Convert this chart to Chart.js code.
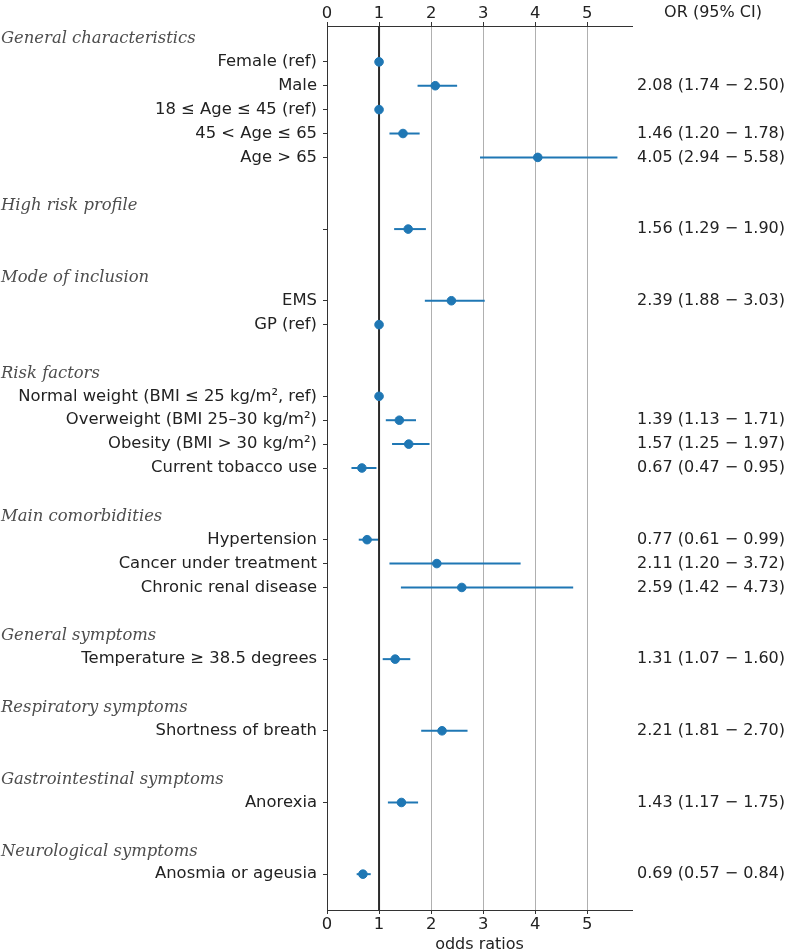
<!DOCTYPE html>
<html>
<head>
<meta charset="utf-8">
<script src="https://cdn.jsdelivr.net/npm/chart.js@4"></script>
<style>
  body { margin: 0; background: #fff; }
  #wrap { width: 787px; height: 951px; }
</style>
</head>
<body>
<div id="wrap"><canvas id="forest"></canvas></div>
<script>
// group headings and the row they sit on
const groups = ['General characteristics', 'High risk profile', 'Mode of inclusion', 'Risk factors',
  'Main comorbidities', 'General symptoms', 'Respiratory symptoms', 'Gastrointestinal symptoms',
  'Neurological symptoms'];
const groupRows = [0, 7, 10, 14, 20, 25, 28, 31, 34];

// variables
const labels = ['Female (ref)', 'Male', '18 ≤ Age ≤ 45 (ref)', '45 < Age ≤ 65', 'Age > 65', '',
  'EMS', 'GP (ref)', 'Normal weight (BMI ≤ 25 kg/m², ref)', 'Overweight (BMI 25–30 kg/m²)',
  'Obesity (BMI > 30 kg/m²)', 'Current tobacco use', 'Hypertension', 'Cancer under treatment',
  'Chronic renal disease', 'Temperature ≥ 38.5 degrees', 'Shortness of breath', 'Anorexia',
  'Anosmia or ageusia'];
const labelRows = [1, 2, 3, 4, 5, 8, 11, 12, 15, 16, 17, 18, 21, 22, 23, 26, 29, 32, 35];

const oddsRatios = [1, 2.08, 1, 1.46, 4.05, 1.56, 2.39, 1, 1, 1.39, 1.57, 0.67, 0.77, 2.11, 2.59, 1.31, 2.21, 1.43, 0.69];
const ciLow  = [null, 1.74, null, 1.20, 2.94, 1.29, 1.88, null, null, 1.13, 1.25, 0.47, 0.61, 1.20, 1.42, 1.07, 1.81, 1.17, 0.57];
const ciHigh = [null, 2.50, null, 1.78, 5.58, 1.90, 3.03, null, null, 1.71, 1.97, 0.95, 0.99, 3.72, 4.73, 1.60, 2.70, 1.75, 0.84];

const xTicks = [0, 1, 2, 3, 4, 5];
const xMax = 5.86;
const refValue = 1;
const nRows = 37;

const orText = oddsRatios.map((v, i) => ciLow[i] == null ? '' :
  v.toFixed(2) + ' (' + ciLow[i].toFixed(2) + ' − ' + ciHigh[i].toFixed(2) + ')');

const blue = '#1f77b4';
const ink = '#222';
const sans = '"DejaVu Sans", sans-serif';

// horizontal CI lines + group headings + "OR (95% CI)"
const forestExtras = {
  id: 'forestExtras',
  beforeDatasetsDraw(chart) {
    const { ctx, scales } = chart;
    ctx.save();
    ctx.strokeStyle = blue;
    ctx.lineWidth = 2;
    ciLow.forEach((lo, i) => {
      if (lo == null) return;
      const y = scales.y.getPixelForValue(labelRows[i]);
      ctx.beginPath();
      ctx.moveTo(scales.x.getPixelForValue(lo), y);
      ctx.lineTo(scales.x.getPixelForValue(ciHigh[i]), y);
      ctx.stroke();
    });
    ctx.restore();
  },
  afterDraw(chart) {
    const { ctx, scales } = chart;
    ctx.save();
    ctx.font = 'italic 16.4px "DejaVu Serif", serif';
    ctx.fillStyle = '#4d4d4d';
    ctx.textAlign = 'left';
    ctx.textBaseline = 'middle';
    groups.forEach((g, i) => {
      ctx.fillText(g, 1, scales.y.getPixelForValue(groupRows[i]) + 1);
    });
    ctx.font = '16px ' + sans;
    ctx.fillStyle = ink;
    ctx.textAlign = 'center';
    ctx.fillText('OR (95% CI)', 713, 13);
    ctx.restore();
  }
};

const yCommon = {
  type: 'linear',
  reverse: true,
  min: -0.5,
  max: nRows - 0.5,
  afterBuildTicks: s => { s.ticks = labelRows.map(v => ({ value: v })); }
};

new Chart(document.getElementById('forest'), {
  type: 'scatter',
  data: {
    datasets: [{
      data: oddsRatios.map((v, i) => ({ x: v, y: labelRows[i] })),
      backgroundColor: blue,
      borderColor: blue,
      pointRadius: 4.3,
      pointHoverRadius: 4.3
    }, {
      type: 'line',
      data: [{ x: refValue, y: -0.5 }, { x: refValue, y: nRows - 0.5 }],
      borderColor: '#2b2b2b',
      borderWidth: 2,
      pointRadius: 0
    }]
  },
  options: {
    responsive: true,
    maintainAspectRatio: false,
    animation: false,
    layout: { padding: 0 },
    plugins: { legend: { display: false }, tooltip: { enabled: false } },
    scales: {
      x: {
        position: 'bottom',
        min: 0, max: xMax,
        afterBuildTicks: s => { s.ticks = xTicks.map(v => ({ value: v })); },
        afterFit: s => { s.height = 41; },
        grid: { color: '#b0b0b0', tickColor: '#333', tickLength: 4 },
        border: { display: true, color: '#333' },
        ticks: { color: ink, font: { family: sans, size: 16.4 }, padding: 1, maxRotation: 0 },
        title: { display: true, text: 'odds ratios', color: ink, font: { family: sans, size: 16 }, padding: { top: 0, bottom: -3 } }
      },
      x2: {
        position: 'top',
        min: 0, max: xMax,
        afterBuildTicks: s => { s.ticks = xTicks.map(v => ({ value: v })); },
        afterFit: s => { s.height = 26; },
        grid: { drawOnChartArea: false, tickColor: '#333', tickLength: 4 },
        border: { display: true, color: '#333' },
        ticks: { color: ink, font: { family: sans, size: 16.4 }, padding: -2, maxRotation: 0 }
      },
      y: Object.assign({}, yCommon, {
        position: 'left',
        afterFit: s => { s.width = 327; },
        grid: { drawOnChartArea: false, tickColor: '#333', tickLength: 4 },
        border: { display: true, color: '#333' },
        ticks: { color: ink, font: { family: sans, size: 16.4 }, padding: 6,
          callback: (v, i) => labels[i] }
      }),
      yR: Object.assign({}, yCommon, {
        position: 'right',
        afterFit: s => { s.width = 155; },
        grid: { display: false, drawTicks: false },
        border: { display: false },
        ticks: { color: ink, font: { family: sans, size: 16 }, padding: 5,
          callback: (v, i) => orText[i] }
      })
    }
  },
  plugins: [forestExtras]
});
</script>
</body>
</html>
